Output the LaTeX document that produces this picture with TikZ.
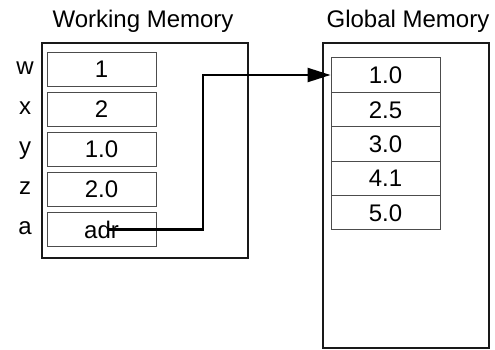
\documentclass[tikz,border=0pt]{standalone}
\usepackage{fontspec}
\setmainfont{Liberation Sans}
\usetikzlibrary{arrows.meta,calc}
\begin{document}
\begin{tikzpicture}[x=1pt,y=-1pt,
  every node/.style={font=\fontsize{24}{28}\selectfont},
  frame/.style={draw=black!90, line width=2.6pt},
  cell/.style={draw=black!70, line width=0.9pt, minimum width=109pt, minimum height=34pt, inner sep=0pt, text height=17.2pt, text depth=0pt},
  gcell/.style={cell, minimum height=34.4pt},
  lbl/.style={inner sep=0pt, text height=12.5pt, text depth=0pt},
  title/.style={inner sep=0pt, anchor=base},
  conn/.style={draw=black, line width=2.3pt, -{Triangle[length=23pt,width=14pt]}}]
\useasboundingbox (0,0) rectangle (495,349);
% titles
\node[title] (tw) at (143,27) {Working Memory};
\node[title] (tg) at (408,27) {Global Memory};
% frames
\node[frame, inner sep=0pt, minimum width=206pt, minimum height=215pt] (wm) at (145,150.5) {};
\node[frame, inner sep=0pt, minimum width=166pt, minimum height=305pt] (gm) at (406,195.5) {};
% working cells
\node[cell] (cw) at (101.5,69) {1};
\node[cell] (cx) at (101.5,109) {2};
\node[cell] (cy) at (101.5,149) {1.0};
\node[cell] (cz) at (101.5,189) {2.0};
\node[cell] (ca) at (101.5,229.5) {adr};
% labels
\node[lbl] (lw) at (25,68) {w};
\node[lbl] (lx) at (25,108) {x};
\node[lbl] (ly) at (25,148) {y};
\node[lbl] (lz) at (25,188) {z};
\node[lbl] (la) at (25,228.5) {a};
% global cells
\node[gcell] (g1) at (385.5,75) {1.0};
\node[gcell] (g2) at (385.5,109.4) {2.5};
\node[gcell] (g3) at (385.5,143.8) {3.0};
\node[gcell] (g4) at (385.5,178.2) {4.1};
\node[gcell] (g5) at (385.5,212.6) {5.0};
% connector
\coordinate (src) at ($(ca.center)+(6.5,0)$);
\draw[conn] (src) -- ++(95,0) |- (g1.west);
\end{tikzpicture}
\end{document}
